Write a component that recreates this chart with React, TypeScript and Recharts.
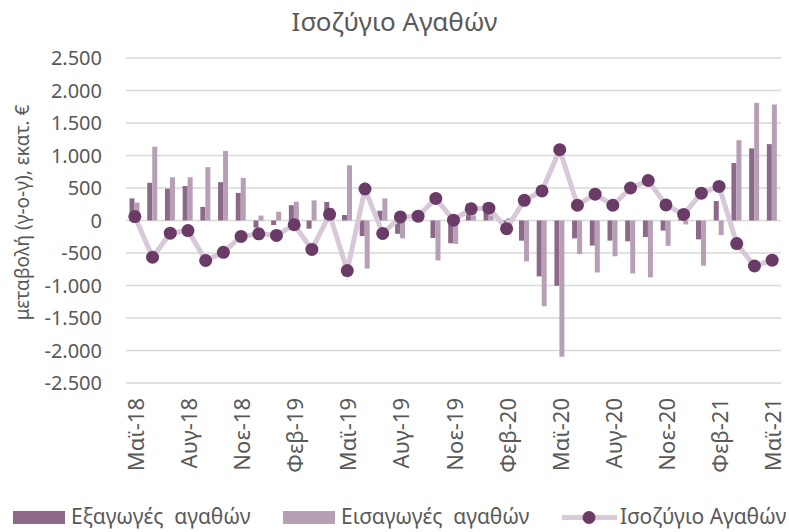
import React from 'react';
import { ComposedChart, Bar, Line, XAxis, YAxis, CartesianGrid, Legend } from 'recharts';

const months = [
  'Μαϊ-18', 'Ιουν-18', 'Ιουλ-18', 'Αυγ-18', 'Σεπ-18', 'Οκτ-18', 'Νοε-18', 'Δεκ-18',
  'Ιαν-19', 'Φεβ-19', 'Μαρ-19', 'Απρ-19', 'Μαϊ-19', 'Ιουν-19', 'Ιουλ-19', 'Αυγ-19',
  'Σεπ-19', 'Οκτ-19', 'Νοε-19', 'Δεκ-19', 'Ιαν-20', 'Φεβ-20', 'Μαρ-20', 'Απρ-20',
  'Μαϊ-20', 'Ιουν-20', 'Ιουλ-20', 'Αυγ-20', 'Σεπ-20', 'Οκτ-20', 'Νοε-20', 'Δεκ-20',
  'Ιαν-21', 'Φεβ-21', 'Μαρ-21', 'Απρ-21', 'Μαϊ-21',
];

const exportsVals = [
  340, 580, 490, 530, 210, 590, 425, -110,
  -70, 235, -125, 285, 85, -240, 150, -205,
  40, -270, -350, 260, 270, -90, -310, -860,
  -1005, -275, -385, -310, -320, -255, -155, 30,
  -290, 300, 885, 1110, 1175,
];

const importsVals = [
  275, 1135, 665, 665, 820, 1070, 655, 75,
  135, 290, 310, 190, 850, -740, 340, -275,
  -25, -615, -360, 80, 80, 35, -630, -1320,
  -2095, -515, -800, -550, -815, -875, -390, -60,
  -695, -225, 1235, 1810, 1785,
];

const balanceVals = [
  60, -565, -195, -155, -615, -490, -245, -205,
  -230, -65, -445, 95, -770, 485, -200, 55,
  67, 340, 5, 180, 190, -125, 310, 455,
  1090, 235, 405, 235, 500, 615, 240, 93,
  420, 525, -355, -700, -610,
];

const yTicks = [-2500, -2000, -1500, -1000, -500, 0, 500, 1000, 1500, 2000, 2500];

const seriesNames = ['Εξαγωγές  αγαθών', 'Εισαγωγές  αγαθών', 'Ισοζύγιο Αγαθών'];
const titleText = 'Ισοζύγιο Αγαθών';
const yLabelText = 'μεταβολή (γ-ο-γ), εκατ. €';

const data = months.map((m, i) => ({
  month: m,
  exp: exportsVals[i],
  imp: importsVals[i],
  bal: balanceVals[i],
}));

const FONT = '"Noto Sans", sans-serif';
const TEXT = '#595959';
const C_EXP = '#8c6889';
const C_IMP = '#b7a0b6';
const C_LINE = '#d8c9d8';
const C_DOT = '#6b3b67';

const fmt = (v: number) => {
  const s = Math.abs(v).toString().replace(/\B(?=(\d{3})+(?!\d))/g, '.');
  return (v < 0 ? '-' : '') + s;
};

const XTick = (props: any) => {
  const { x, y, payload } = props;
  return (
    <text
      x={x}
      y={y}
      transform={`rotate(-90 ${x} ${y})`}
      textAnchor="end"
      dominantBaseline="central"
      fill={TEXT}
      fontSize={22}
      fontFamily={FONT}
    >
      {payload.value}
    </text>
  );
};

const YLabel = (props: any) => {
  const { viewBox } = props;
  const cx = 22;
  const cy = viewBox.y + viewBox.height / 2 - 8;
  return (
    <text
      x={cx}
      y={cy}
      transform={`rotate(-90 ${cx} ${cy})`}
      textAnchor="middle"
      dominantBaseline="central"
      fill={TEXT}
      fontSize={19}
      fontFamily={FONT}
    >
      {yLabelText}
    </text>
  );
};

const LegendContent = () => (
  <svg width={789} height={30} style={{ display: 'block', overflow: 'visible' }}>
    <rect x={13} y={11} width={52} height={13} fill={C_EXP} />
    <text x={71} y={23.5} fill={TEXT} fontSize={21} fontFamily={FONT} style={{ whiteSpace: 'pre' }}>
      {seriesNames[0]}
    </text>
    <rect x={283} y={11} width={52} height={13} fill={C_IMP} />
    <text x={341} y={23.5} fill={TEXT} fontSize={21} fontFamily={FONT} style={{ whiteSpace: 'pre' }}>
      {seriesNames[1]}
    </text>
    <line x1={562} y1={17.5} x2={617} y2={17.5} stroke={C_LINE} strokeWidth={5} />
    <circle cx={589} cy={17.5} r={6.5} fill={C_DOT} />
    <text x={620} y={23.5} fill={TEXT} fontSize={21} fontFamily={FONT}>
      {seriesNames[2]}
    </text>
  </svg>
);

export default function App() {
  return (
    <div style={{ position: 'absolute', left: 0, top: 0, width: 789, height: 532, background: '#fff', overflow: 'hidden' }}>
      <div
        style={{
          position: 'absolute',
          left: 0,
          top: 4,
          width: 789,
          textAlign: 'center',
          fontFamily: FONT,
          fontSize: 26,
          color: TEXT,
          lineHeight: '34px',
          zIndex: 2,
        }}
      >
        {titleText}
      </div>
      <ComposedChart
        width={789}
        height={532}
        data={data}
        margin={{ top: 58, right: 8, bottom: 0, left: 0 }}
        barCategoryGap="20%"
        barGap={0}
      >
        <CartesianGrid horizontal vertical={false} stroke="#d9d9d9" strokeWidth={1.3} />
        <XAxis
          dataKey="month"
          height={149}
          interval={2}
          tick={<XTick />}
          tickLine={false}
          axisLine={false}
          tickMargin={9}
        />
        <YAxis
          width={126}
          domain={[-2500, 2500]}
          ticks={yTicks}
          tickFormatter={fmt}
          tick={{ fill: TEXT, fontSize: 20, fontFamily: FONT }}
          tickLine={false}
          axisLine={false}
          tickMargin={18}
          interval={0}
          label={<YLabel />}
        />
        <Legend
          layout="horizontal"
          verticalAlign="middle"
          align="center"
          content={<LegendContent />}
          wrapperStyle={{ top: 500, left: 0, width: 789, height: 30 }}
        />
        <Bar dataKey="exp" name={seriesNames[0]} fill={C_EXP} isAnimationActive={false} />
        <Bar dataKey="imp" name={seriesNames[1]} fill={C_IMP} isAnimationActive={false} />
        <Line
          dataKey="bal"
          name={seriesNames[2]}
          stroke={C_LINE}
          strokeWidth={5}
          dot={{ r: 6.5, fill: C_DOT, stroke: 'none' }}
          activeDot={false}
          isAnimationActive={false}
        />
      </ComposedChart>
    </div>
  );
}
